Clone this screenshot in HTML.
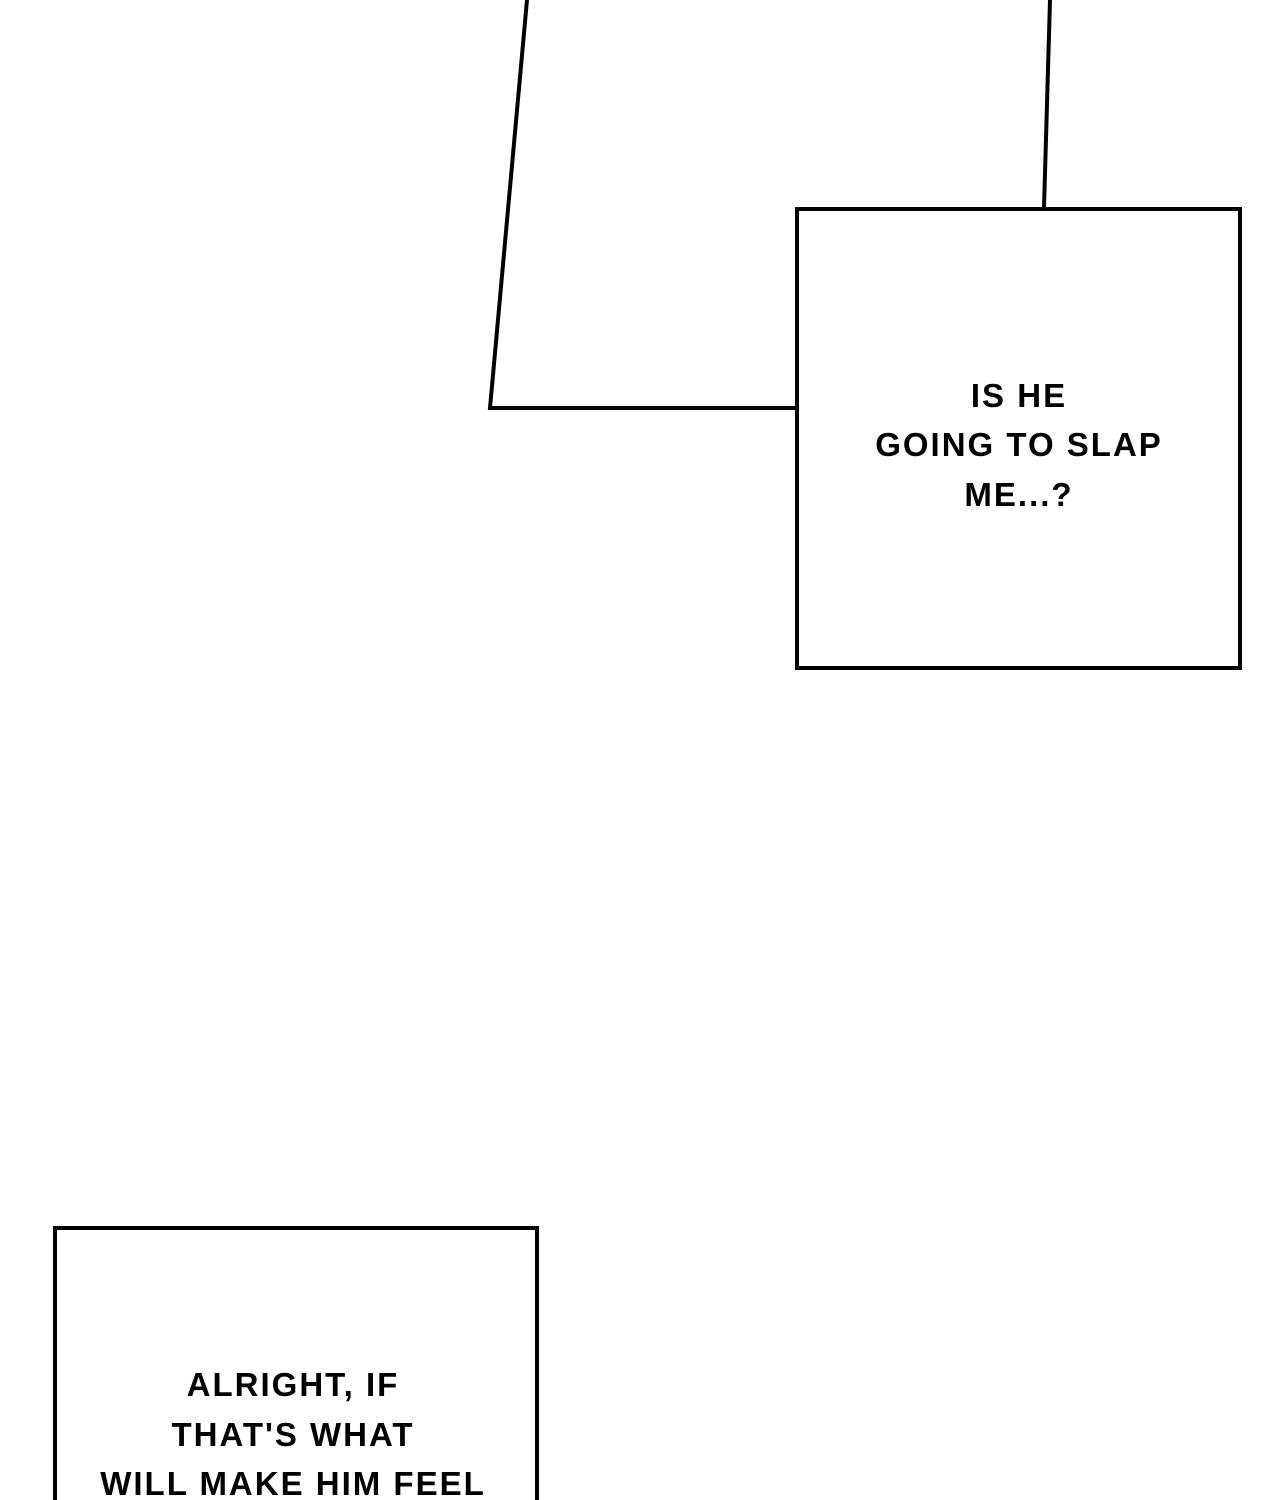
<!DOCTYPE html>
<html><head><meta charset="utf-8"><style>
html,body{margin:0;padding:0;background:#fff;width:1280px;height:1500px;overflow:hidden}
svg{display:block}
text{font-family:"Liberation Sans",sans-serif;font-weight:bold;font-size:33px;letter-spacing:2px;fill:#000;text-anchor:middle}
</style></head><body>
<svg width="1280" height="1500" viewBox="0 0 1280 1500" xmlns="http://www.w3.org/2000/svg">
<polyline points="527,0 490,408 797,408" fill="none" stroke="#000" stroke-width="4"/>
<line x1="1050" y1="0" x2="1044" y2="208" stroke="#000" stroke-width="4"/>
<rect x="797" y="209" width="443" height="459" fill="#fff" stroke="#000" stroke-width="4"/>
<text x="1019" y="407">IS HE</text>
<text x="1019" y="456">GOING TO SLAP</text>
<text x="1019" y="506">ME...?</text>
<rect x="55" y="1228" width="482" height="300" fill="#fff" stroke="#000" stroke-width="4"/>
<text x="293" y="1396">ALRIGHT, IF</text>
<text x="293" y="1446">THAT'S WHAT</text>
<text x="293" y="1495">WILL MAKE HIM FEEL</text>
</svg>
</body></html>
